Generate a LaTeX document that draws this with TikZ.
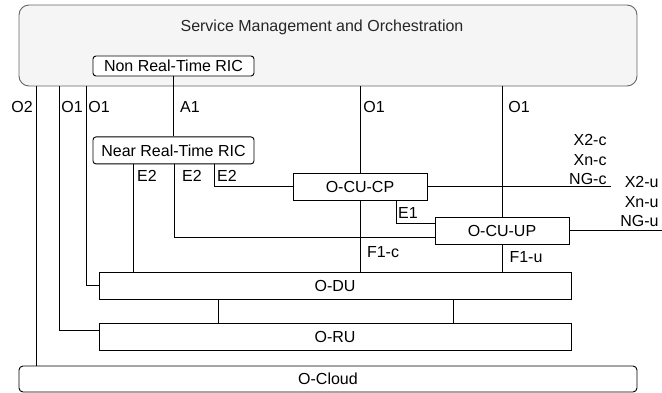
\documentclass[tikz,border=0pt]{standalone}
\usepackage{fontspec}
\setmainfont{Liberation Sans}
\usetikzlibrary{positioning}
\definecolor{smofill}{HTML}{F5F5F5}
\definecolor{smoline}{HTML}{666666}

\begin{document}
\begin{tikzpicture}[x=1pt, y=-1pt, line width=0.9pt,
        font=\fontsize{16}{19.5}\selectfont,
        box/.style={draw, fill=white, rectangle, inner sep=0pt, minimum height=27pt},
        rbox/.style={box, rounded corners=3pt},
        lbl/.style={inner sep=0pt}]
        \useasboundingbox (0,0) rectangle (662,393);

        \node[draw=smoline, fill=smofill, rounded corners=10pt, minimum width=618pt, minimum height=81pt, inner sep=0pt] (smo) at (328,45.5) {};
        \node[lbl, text=black!85] (smotxt) at (322,27) {Service Management and Orchestration};
        \node[rbox, minimum width=161pt, minimum height=20pt] (nrt) at (173.5,66) {Non Real-Time RIC};
        \node[rbox, minimum width=161pt] (nearrt) [below=60pt of nrt] {Near Real-Time RIC};
        \node[box, minimum width=134pt] (cucp) at (360,186.5) {O-CU-CP};
        \node[box, minimum width=134pt] (cuup) at (502,230.5) {O-CU-UP};
        \node[box, minimum width=472pt] (odu) at (335,285.5) {O-DU};
        \node[box, minimum width=472pt] (oru) [below=24pt of odu] {O-RU};
        \node[rbox, minimum width=618pt, minimum height=26pt, rounded corners=4pt] (ocloud) at (328,379) {O-Cloud};

        \coordinate (o2) at (36,0);
        \coordinate (o1ru) at (59.5,330);
        \coordinate (o1du) at (86.5,0);
        \coordinate (e2du) at (133,0);
        \coordinate (e2up) at (174,237);
        \coordinate (e2cp) at (214,0);
        \coordinate (e1) at (396,223);
        \coordinate (xc) at (611,186.5);
        \coordinate (xu) at (662,230.5);
        \coordinate (rfa) at (218,0);
        \coordinate (rfb) at (453,0);

        \draw (smo.south -| o2) -- (ocloud.north -| o2);
        \draw (smo.south -| o1ru) |- (o1ru -| oru.west);
        \draw (smo.south -| o1du) |- (odu.west);
        \draw (nrt.south) -- (nearrt.north);
        \draw (nearrt.south -| e2du) -- (odu.north -| e2du);
        \draw (nearrt.south -| e2up) |- (e2up -| cuup.west);
        \draw (nearrt.south -| e2cp) |- (cucp.west);
        \draw (smo.south -| cucp) -- (cucp.north);
        \draw (cucp.south) -- (odu.north -| cucp);
        \draw (smo.south -| cuup) -- (cuup.north);
        \draw (cucp.south -| e1) |- (e1 -| cuup.west);
        \draw (cuup.south) -- (odu.north -| cuup);
        \draw (cucp.east) -- (xc);
        \draw (cuup.east) -- (xu);
        \draw (odu.south -| rfa) -- (oru.north -| rfa);
        \draw (odu.south -| rfb) -- (oru.north -| rfb);

        \node[lbl] (lo2) at (22,107) {O2};
        \node[lbl] (lo1ru) at (72,107) {O1};
        \node[lbl] (lo1du) at (99,107) {O1};
        \node[lbl] (la1) at (190,107) {A1};
        \node[lbl] (lo1cp) at (374,107) {O1};
        \node[lbl] (lo1up) at (519,107) {O1};
        \node[lbl] (le2du) at (147,176) {E2};
        \node[lbl] (le2up) at (192,176) {E2};
        \node[lbl] (le2cp) at (227,176) {E2};
        \node[lbl] (le1) at (408,213) {E1};
        \node[lbl] (lf1c) at (383,252) {F1-c};
        \node[lbl] (lf1u) at (526,257) {F1-u};
        \node[lbl, align=right, anchor=east] (lxc) at (607,159.5) {X2-c\\Xn-c\\NG-c};
        \node[lbl, align=right, anchor=east] (lxu) at (659,201.5) {X2-u\\Xn-u\\NG-u};
    \end{tikzpicture}
\end{document}
